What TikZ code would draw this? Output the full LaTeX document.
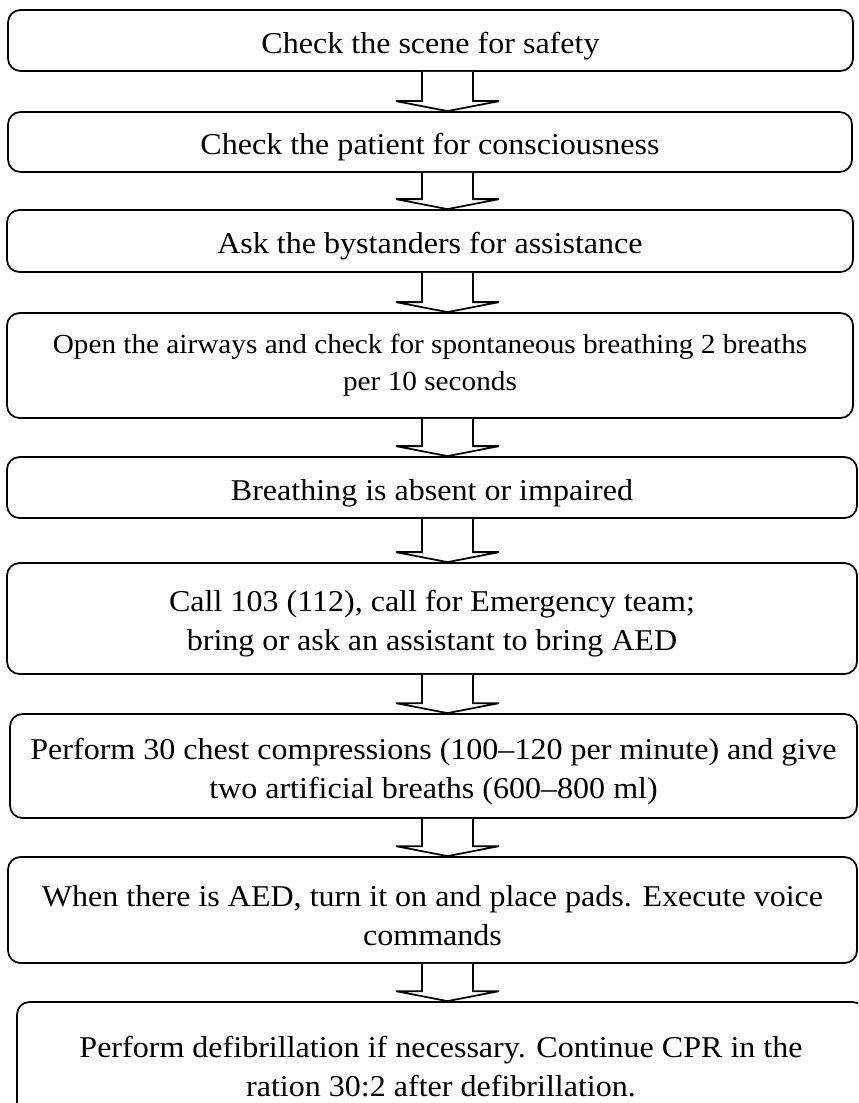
\documentclass[tikz,border=0pt]{standalone}
\usepackage{fontspec}
\setmainfont{Liberation Serif}[FakeStretch=1.06]
\usetikzlibrary{calc}
\newcommand{\drop}{\rule{0pt}{0.64cm}}
\tikzset{
    stepbox/.style={draw, line width=1pt, rounded corners=0.25cm, fill=white, minimum width=16.9cm, minimum height=1.22cm, align=center, inner sep=0pt, font=\fontsize{17.2pt}{22.2pt}\selectfont},
    smalltext/.style={font=\fontsize{15.7pt}{21pt}\selectfont},
    blockarr/.style={draw, line width=1pt, fill=white, line join=miter},
}
\begin{document}
\begin{tikzpicture}
\useasboundingbox (0,0) rectangle (17.16,-22.06);
\clip (0,0) rectangle (17.16,-22.06);
\node[stepbox, minimum width=16.9cm] (scene) at (8.61,-0.81) {\drop Check the scene for safety};
\node[stepbox, minimum width=16.88cm, minimum height=1.2cm] (patient) at (8.6,-2.84) {\drop Check the patient for consciousness};
\node[stepbox, minimum width=16.92cm, minimum height=1.24cm] (helpers) at (8.6,-4.82) {\drop Ask the bystanders for assistance};
\node[stepbox, smalltext, minimum width=16.92cm, minimum height=2.1cm] (airway) at (8.6,-7.31) {Open the airways and check for spontaneous breathing 2 breaths\\per 10 seconds};
\node[stepbox, minimum width=17.0cm] (absent) at (8.64,-9.75) {\drop Breathing is absent or impaired};
\node[stepbox, minimum width=17.0cm, minimum height=2.22cm] (callteam) at (8.64,-12.37) {\drop Call 103 (112), call for Emergency team;\\bring or ask an assistant to bring AED};
\node[stepbox, minimum width=16.94cm, minimum height=2.08cm] (compress) at (8.67,-15.32) {\drop Perform 30 chest compressions (100--120 per minute) and give\\two artificial breaths (600--800 ml)};
\node[stepbox, minimum width=16.98cm, minimum height=2.12cm] (aed) at (8.65,-18.2) {\drop When there is AED, turn it on and place pads. Execute voice\\commands};
\node[stepbox, minimum width=16.96cm, minimum height=2.36cm] (defib) at (8.82,-21.22) {\drop Perform defibrillation if necessary. Continue CPR in the\\ration 30:2 after defibrillation.};

% hollow block arrows between the steps
\coordinate (axis) at (8.95,0);
\foreach \a/\b in {scene/patient, patient/helpers, helpers/airway, airway/absent, absent/callteam, callteam/compress, compress/aed, aed/defib} {
    \draw[blockarr] ($(\a.south -| axis)+(-0.51,0)$) -- ($(\b.north -| axis)+(-0.51,0.2)$) -- ++(-0.52,0) -- (\b.north -| axis) -- ++(1.03,0.2) -- ++(-0.52,0) -- ($(\a.south -| axis)+(0.51,0)$);
}
\end{tikzpicture}
\end{document}
